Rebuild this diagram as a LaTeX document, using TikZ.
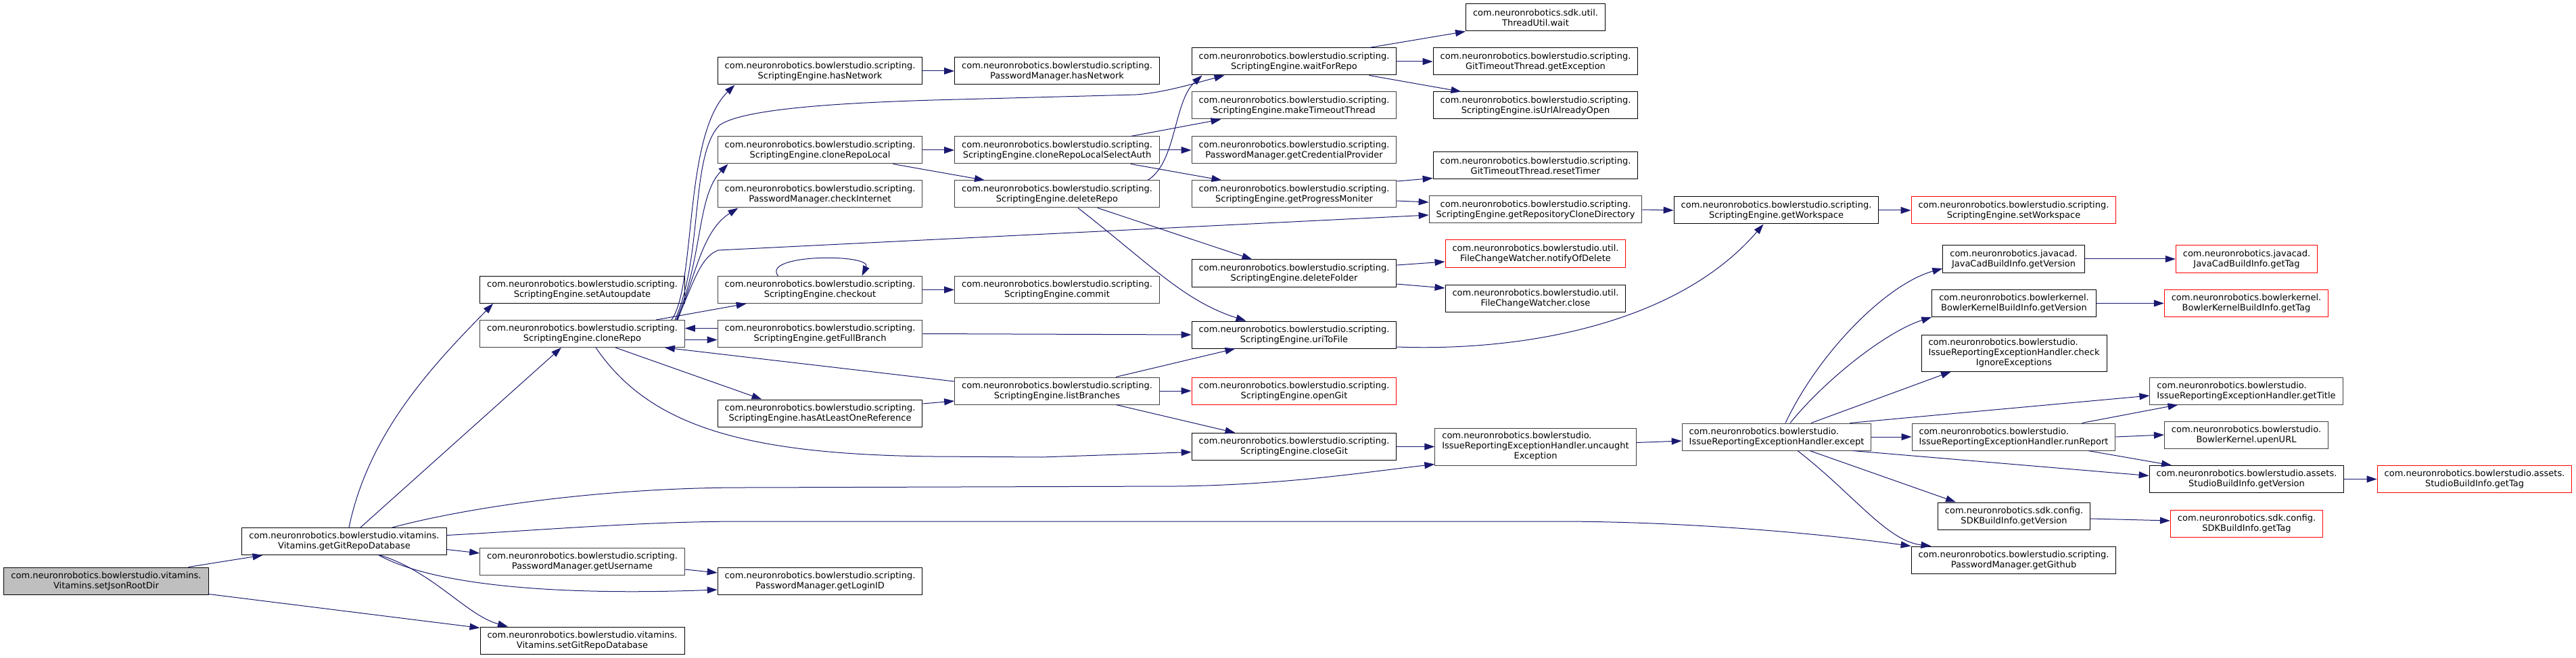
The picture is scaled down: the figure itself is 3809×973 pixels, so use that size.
\documentclass[tikz,border=0pt]{standalone}
\usepackage{fontspec}
\setmainfont{DejaVu Sans}
\definecolor{doxEdge}{RGB}{25,25,112}
\definecolor{doxGrey}{RGB}{64,64,64}
\definecolor{doxRoot}{RGB}{191,191,191}
\definecolor{doxRed}{RGB}{255,0,0}
\usetikzlibrary{arrows.meta}

\begin{document}
\begin{tikzpicture}[
  x=1pt, y=-1pt,
  fn/.style={draw=black, line width=1pt, fill=white, minimum height=40pt,
             inner xsep=10.5pt, inner ysep=4pt, font=\fontsize{13}{15}\selectfont, align=center},
  fngrey/.style={fn, draw=doxGrey},
  fnred/.style={fn, draw=doxRed},
  fnroot/.style={fn, fill=doxRoot},
  call/.style={draw=doxEdge, line width=1pt, -{Triangle[length=15pt,width=10pt]}}
]
  \useasboundingbox (0,0) rectangle (3809,973);

  % columns 0-2
  \node[fnroot] (root)     at (157,859)   {com.neuronrobotics.bowlerstudio.vitamins.\\Vitamins.setJsonRootDir};
  \node[fn]     (gitdb)    at (509,800.5) {com.neuronrobotics.bowlerstudio.vitamins.\\Vitamins.getGitRepoDatabase};
  \node[fn]     (autoupd)  at (861,428.5) {com.neuronrobotics.bowlerstudio.scripting.\\ScriptingEngine.setAutoupdate};
  \node[fngrey] (clone)    at (861,493.5) {com.neuronrobotics.bowlerstudio.scripting.\\ScriptingEngine.cloneRepo};
  \node[fngrey] (username) at (861,830)   {com.neuronrobotics.bowlerstudio.scripting.\\PasswordManager.getUsername};
  \node[fn]     (setgitdb) at (861,947)   {com.neuronrobotics.bowlerstudio.vitamins.\\Vitamins.setGitRepoDatabase};

  % column 3
  \node[fn]     (senet)      at (1212.5,105)   {com.neuronrobotics.bowlerstudio.scripting.\\ScriptingEngine.hasNetwork};
  \node[fngrey] (clonelocal) at (1212.5,222)   {com.neuronrobotics.bowlerstudio.scripting.\\ScriptingEngine.cloneRepoLocal};
  \node[fngrey] (checknet)   at (1212.5,287)   {com.neuronrobotics.bowlerstudio.scripting.\\PasswordManager.checkInternet};
  \node[fngrey] (checkout)   at (1212.5,428.5) {com.neuronrobotics.bowlerstudio.scripting.\\ScriptingEngine.checkout};
  \node[fngrey] (fullbranch) at (1212.5,493.5) {com.neuronrobotics.bowlerstudio.scripting.\\ScriptingEngine.getFullBranch};
  \node[fn]     (atleast)    at (1212.5,611)   {com.neuronrobotics.bowlerstudio.scripting.\\ScriptingEngine.hasAtLeastOneReference};
  \node[fn]     (loginid)    at (1212.5,859)   {com.neuronrobotics.bowlerstudio.scripting.\\PasswordManager.getLoginID};

  % column 4
  \node[fn]     (pmnet)   at (1563,105)   {com.neuronrobotics.bowlerstudio.scripting.\\PasswordManager.hasNetwork};
  \node[fngrey] (selauth) at (1563,222)   {com.neuronrobotics.bowlerstudio.scripting.\\ScriptingEngine.cloneRepoLocalSelectAuth};
  \node[fngrey] (delrepo) at (1563,287)   {com.neuronrobotics.bowlerstudio.scripting.\\ScriptingEngine.deleteRepo};
  \node[fngrey] (commit)  at (1563,428.5) {com.neuronrobotics.bowlerstudio.scripting.\\ScriptingEngine.commit};
  \node[fngrey] (listbr)  at (1563,578)   {com.neuronrobotics.bowlerstudio.scripting.\\ScriptingEngine.listBranches};

  % column 5
  \node[fn]     (waitrepo)  at (1913.5,91)    {com.neuronrobotics.bowlerstudio.scripting.\\ScriptingEngine.waitForRepo};
  \node[fngrey] (mktimeout) at (1913.5,156)   {com.neuronrobotics.bowlerstudio.scripting.\\ScriptingEngine.makeTimeoutThread};
  \node[fngrey] (credprov)  at (1913.5,222)   {com.neuronrobotics.bowlerstudio.scripting.\\PasswordManager.getCredentialProvider};
  \node[fngrey] (progmon)   at (1913.5,287)   {com.neuronrobotics.bowlerstudio.scripting.\\ScriptingEngine.getProgressMoniter};
  \node[fn]     (delfolder) at (1913.5,404)   {com.neuronrobotics.bowlerstudio.scripting.\\ScriptingEngine.deleteFolder};
  \node[fn]     (uritofile) at (1913.5,495)   {com.neuronrobotics.bowlerstudio.scripting.\\ScriptingEngine.uriToFile};
  \node[fnred]  (opengit)   at (1913.5,578)   {com.neuronrobotics.bowlerstudio.scripting.\\ScriptingEngine.openGit};
  \node[fn]     (closegit)  at (1913.5,660.5) {com.neuronrobotics.bowlerstudio.scripting.\\ScriptingEngine.closeGit};

  % column 6
  \node[fn]     (twait)      at (2270.5,26)  {com.neuronrobotics.sdk.util.\\ThreadUtil.wait};
  \node[fn]     (getexc)     at (2270.5,91)  {com.neuronrobotics.bowlerstudio.scripting.\\GitTimeoutThread.getException};
  \node[fn]     (urlopen)    at (2270.5,156) {com.neuronrobotics.bowlerstudio.scripting.\\ScriptingEngine.isUrlAlreadyOpen};
  \node[fn]     (resettimer) at (2270.5,245) {com.neuronrobotics.bowlerstudio.scripting.\\GitTimeoutThread.resetTimer};
  \node[fngrey] (clonedir)   at (2270.5,310) {com.neuronrobotics.bowlerstudio.scripting.\\ScriptingEngine.getRepositoryCloneDirectory};
  \node[fnred]  (notifydel)  at (2270.5,375) {com.neuronrobotics.bowlerstudio.util.\\FileChangeWatcher.notifyOfDelete};
  \node[fn]     (fwclose)    at (2270.5,441) {com.neuronrobotics.bowlerstudio.util.\\FileChangeWatcher.close};
  \node[fngrey, minimum height=55pt] (uncaught) at (2270.5,660.5)
    {\begin{tabular}{@{}l@{}}com.neuronrobotics.bowlerstudio.\\IssueReportingExceptionHandler.uncaught\\\multicolumn{1}{@{}c@{}}{Exception}\end{tabular}};

  % column 7
  \node[fn]     (workspace) at (2626.5,311) {com.neuronrobotics.bowlerstudio.scripting.\\ScriptingEngine.getWorkspace};
  \node[fngrey, align=left] (except) at (2627,646) {com.neuronrobotics.bowlerstudio.\\IssueReportingExceptionHandler.except};

  % column 8
  \node[fnred]  (setws)  at (2977.5,311) {com.neuronrobotics.bowlerstudio.scripting.\\ScriptingEngine.setWorkspace};
  \node[fn]     (jcver)  at (2977.5,383) {com.neuronrobotics.javacad.\\JavaCadBuildInfo.getVersion};
  \node[fn]     (bkver)  at (2978,448.5) {com.neuronrobotics.bowlerkernel.\\BowlerKernelBuildInfo.getVersion};
  \node[fn, minimum height=54pt] (ignore) at (2978,522)
    {\begin{tabular}{@{}l@{}}com.neuronrobotics.bowlerstudio.\\IssueReportingExceptionHandler.check\\\multicolumn{1}{@{}c@{}}{IgnoreExceptions}\end{tabular}};
  \node[fngrey, align=left] (runrep) at (2977.5,646) {com.neuronrobotics.bowlerstudio.\\IssueReportingExceptionHandler.runReport};
  \node[fn]     (sdkver) at (2978,763)   {com.neuronrobotics.sdk.config.\\SDKBuildInfo.getVersion};
  \node[fn]     (github) at (2977.5,828) {com.neuronrobotics.bowlerstudio.scripting.\\PasswordManager.getGithub};

  % columns 9-10
  \node[fnred]  (jctag)     at (3322,383)     {com.neuronrobotics.javacad.\\JavaCadBuildInfo.getTag};
  \node[fnred]  (bktag)     at (3321.5,448.5) {com.neuronrobotics.bowlerkernel.\\BowlerKernelBuildInfo.getTag};
  \node[fngrey, align=left] (title) at (3321.5,578) {com.neuronrobotics.bowlerstudio.\\IssueReportingExceptionHandler.getTitle};
  \node[fngrey] (upenurl)   at (3321.5,643)   {com.neuronrobotics.bowlerstudio.\\BowlerKernel.upenURL};
  \node[fn]     (studiover) at (3322,708.5)   {com.neuronrobotics.bowlerstudio.assets.\\StudioBuildInfo.getVersion};
  \node[fnred]  (sdktag)    at (3322,774)     {com.neuronrobotics.sdk.config.\\SDKBuildInfo.getTag};
  \node[fnred]  (studiotag) at (3659,708.5)   {com.neuronrobotics.bowlerstudio.assets.\\StudioBuildInfo.getTag};

  % calls from the root and getGitRepoDatabase
  \draw[call] ([xshift=-30pt]root.north east) -- ([xshift=31pt]gitdb.south west);
  \draw[call] ([yshift=1pt]root.south east) -- ([yshift=-2pt]setgitdb.north west);
  \draw[call] ([xshift=7pt]gitdb.north) .. controls (545,640) and (640,540) .. ([xshift=20pt]autoupd.south west);
  \draw[call] ([xshift=24pt]gitdb.north) -- ([xshift=-31pt]clone.south);
  \draw[call] ([xshift=71pt]gitdb.north) .. controls (700,748) and (900,721) .. (1100,721) -- (1740,719)
              .. controls (1900,717) and (2020,698) .. ([yshift=2pt]uncaught.south west);
  \draw[call] ([yshift=9pt]gitdb.east) .. controls (800,784) and (950,771) .. (1100,771) -- (2300,771)
              .. controls (2500,771) and (2700,790) .. (github.north west);
  \draw[call] ([yshift=-12pt]gitdb.east) -- ([yshift=12pt]username.west);
  \draw[call] ([xshift=51pt]gitdb.south) .. controls (650,870) and (850,880) .. ([yshift=-13pt]loginid.west);
  \draw[call] ([xshift=53pt]gitdb.south) .. controls (640,845) and (690,910) .. ([xshift=-110pt]setgitdb.north);
  \draw[call] ([yshift=-12pt]username.east) -- ([yshift=12pt]loginid.west);

  % calls from cloneRepo
  \draw[call] ([xshift=132pt]clone.north) .. controls (1030,420) and (1010,200) .. ([xshift=-126pt]senet.south);
  \draw[call] ([xshift=137pt]clone.north) .. controls (1040,380) and (1020,230) .. (1064,185)
              .. controls (1100,160) and (1250,152) .. (1380,148) -- (1680,140)
              .. controls (1720,137) and (1760,125) .. ([xshift=-103pt]waitrepo.south);
  \draw[call] ([xshift=139pt]clone.north) .. controls (1040,380) and (1030,290) .. ([xshift=-136pt]clonelocal.south);
  \draw[call] ([xshift=141pt]clone.north) .. controls (1030,400) and (1040,340) .. ([xshift=-121pt]checknet.south);
  \draw[call] ([xshift=140pt]clone.north) .. controls (1025,420) and (1035,380) .. (1062,370) -- ([yshift=-8pt]clonedir.west);
  \draw[call] ([xshift=109pt]clone.north) -- ([xshift=43pt]checkout.south west);
  \draw[call] ([yshift=-9pt]clone.east) -- ([yshift=-9pt]fullbranch.west);
  \draw[call] ([yshift=8pt]fullbranch.west) -- ([yshift=8pt]clone.east);
  \draw[call] ([xshift=49pt]clone.south) -- ([xshift=-86pt]atleast.north);
  \draw[call] ([xshift=20pt]clone.south) .. controls (960,630) and (1100,672) .. (1380,675) -- (1540,676)
              -- ([yshift=-8pt]closegit.west);
  \draw[call] ([yshift=14pt]listbr.west) -- ([xshift=-30pt]clone.south east);
  \draw[call] ([yshift=14pt]atleast.east) -- ([yshift=-15pt]listbr.west);

  % column 3 and 4 calls
  \draw[call] ([xshift=-62pt]checkout.north) .. controls (1125,375) and (1290,375) .. ([xshift=62pt]checkout.north);
  \draw[call] (checkout.east) -- (commit.west);
  \draw[call] (senet.east) -- (pmnet.west);
  \draw[call] (clonelocal.east) -- (selauth.west);
  \draw[call] ([xshift=108pt]clonelocal.south) -- ([xshift=-107pt]delrepo.north);
  \draw[call] (fullbranch.east) -- (uritofile.west);
  \draw[call] ([xshift=109pt]selauth.north) -- ([xshift=-108pt]mktimeout.south);
  \draw[call] (selauth.east) -- (credprov.west);
  \draw[call] ([xshift=109pt]selauth.south) -- ([xshift=-107pt]progmon.north);
  \draw[call] ([xshift=134pt]delrepo.north) .. controls (1740,240) and (1735,150) .. ([xshift=-136pt]waitrepo.south);
  \draw[call] ([xshift=60pt]delrepo.south) -- ([xshift=-62pt]delfolder.north);
  \draw[call] ([xshift=31pt]delrepo.south) .. controls (1700,390) and (1750,445) .. ([xshift=-71pt]uritofile.north);
  \draw[call] ([xshift=87pt]listbr.north) -- ([xshift=-87pt]uritofile.south);
  \draw[call] (listbr.east) -- (opengit.west);
  \draw[call] ([xshift=87pt]listbr.south) -- ([xshift=-87pt]closegit.north);

  % column 5 and 6 calls
  \draw[call] ([xshift=111pt]waitrepo.north) -- (twait.south west);
  \draw[call] (waitrepo.east) -- (getexc.west);
  \draw[call] ([xshift=111pt]waitrepo.south) -- ([xshift=-110pt]urlopen.north);
  \draw[call] ([yshift=19pt]progmon.east) -- ([yshift=2pt]resettimer.south west);
  \draw[call] ([yshift=-10pt]progmon.east) -- ([yshift=11pt]clonedir.west);
  \draw[call] ([yshift=12pt]delfolder.east) -- ([yshift=-12pt]notifydel.west);
  \draw[call] ([yshift=-16pt]delfolder.east) -- ([yshift=15pt]fwclose.west);
  \draw[call] ([yshift=-18pt]uritofile.east) .. controls (2250,520) and (2480,480) .. ([xshift=-19pt]workspace.south);
  \draw[call] (closegit.east) -- (uncaught.west);
  \draw[call] (clonedir.east) -- (workspace.west);
  \draw[call] ([yshift=6pt]uncaught.east) -- ([yshift=-6pt]except.west);
  \draw[call] (workspace.east) -- (setws.west);

  % calls from except and runReport
  \draw[call] ([xshift=13pt]except.north) .. controls (2690,520) and (2790,420) .. ([yshift=-14pt]jcver.west);
  \draw[call] ([xshift=20pt]except.north) .. controls (2700,560) and (2790,490) .. (bkver.south west);
  \draw[call] ([xshift=51pt]except.north) -- ([xshift=-93pt]ignore.south);
  \draw[call] ([xshift=-32pt]except.north east) -- ([yshift=-7pt]title.west);
  \draw[call] (except.east) -- (runrep.west);
  \draw[call] ([xshift=-28pt]except.south east) -- ([yshift=5pt]studiover.west);
  \draw[call] ([xshift=49pt]except.south) -- ([xshift=-86pt]sdkver.north);
  \draw[call] ([xshift=31pt]except.south) .. controls (2740,730) and (2790,800) .. ([xshift=-122pt]github.north);
  \draw[call] ([xshift=101pt]runrep.north) -- ([xshift=-101pt]title.south);
  \draw[call] (runrep.east) -- (upenurl.west);
  \draw[call] ([xshift=110pt]runrep.south) -- ([xshift=-111pt]studiover.north);
  \draw[call] (jcver.east) -- (jctag.west);
  \draw[call] (bkver.east) -- (bktag.west);
  \draw[call] ([yshift=-4pt]sdkver.east) -- ([yshift=4pt]sdktag.west);
  \draw[call] (studiover.east) -- (studiotag.west);
\end{tikzpicture}
\end{document}
